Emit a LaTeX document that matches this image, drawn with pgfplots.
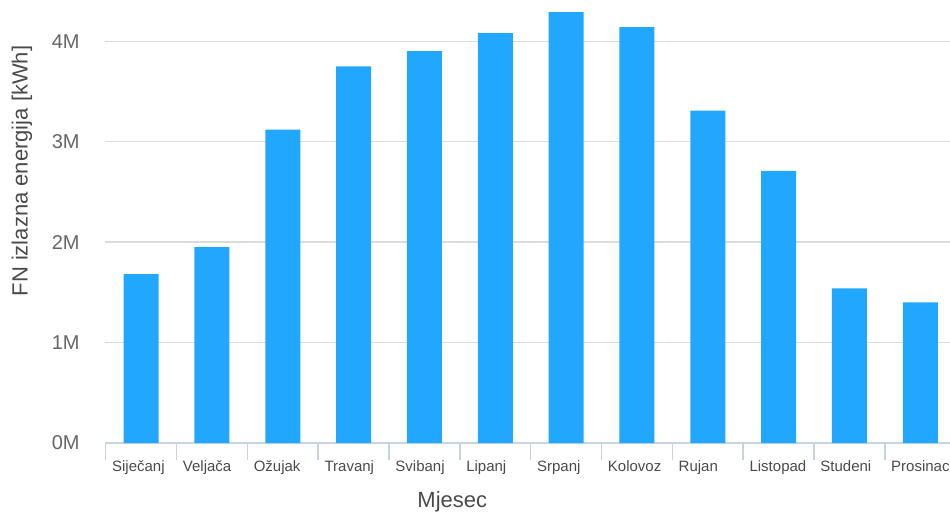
\documentclass[border=0pt]{standalone}
\usepackage{fontspec}
\setmainfont{Liberation Sans}
\usepackage{pgfplots}
\pgfplotsset{compat=1.18}

\definecolor{barblue}{HTML}{22A7FE}
\definecolor{gridgray}{HTML}{DCDCDC}
\definecolor{axisgray}{HTML}{C9D3DE}
\definecolor{ticktext}{HTML}{666666}
\definecolor{labeltext}{HTML}{4A4A4A}

\begin{document}
\begin{tikzpicture}
  \begin{axis}[
      scale only axis,
      width=422.5pt, height=221.5pt,
      xmin=-0.51, xmax=11.42,
      ymin=0, ymax=4.41,
      axis x line*=bottom, axis y line*=left,
      y axis line style={draw=none},
      x axis line style={draw=axisgray, line width=0.7pt},
      ybar, bar width=17.5pt,
      ymajorgrids, grid style={gridgray, line width=0.65pt},
      ytick={0,1,2,3,4},
      yticklabels={0M,1M,2M,3M,4M},
      ytick style={draw=none},
      yticklabel style={anchor=east, inner sep=0pt, xshift=-4pt,
        font=\fontsize{10}{12}\selectfont, text=ticktext},
      xtick={-0.5,0.5,...,10.5},
      xticklabels={Siječanj,Veljača,Ožujak,Travanj,Svibanj,Lipanj,Srpanj,Kolovoz,Rujan,Listopad,Studeni,Prosinac},
      tick align=outside,
      major tick length=8.5pt,
      xtick style={draw=axisgray, line width=0.7pt},
      xticklabel style={anchor=base west, inner sep=0pt, xshift=3pt, yshift=-5.5pt,
        font=\fontsize{7.5}{9}\selectfont, text=labeltext},
      ylabel={FN izlazna energija [kWh]},
      ylabel style={at={(axis description cs:0,0.614)}, anchor=center, yshift=41.5pt,
        font=\fontsize{11}{13}\selectfont, text=labeltext},
      xlabel={Mjesec},
      xlabel style={at={(axis description cs:0.411,0)}, anchor=base, yshift=-32pt,
        font=\fontsize{11}{13}\selectfont, text=labeltext},
    ]
    \addplot[fill=barblue, draw=none] coordinates {
      (0,1.68) (1,1.95) (2,3.12) (3,3.75) (4,3.90) (5,4.08)
      (6,4.29) (7,4.14) (8,3.31) (9,2.71) (10,1.54) (11,1.40)
    };
    \coordinate (bl) at (rel axis cs:0,0);
    \coordinate (tr) at (rel axis cs:1,1);
  \end{axis}
  \pgfresetboundingbox
  \path[use as bounding box] (bl) ++(-52.5pt,-34pt) rectangle (tr);
\end{tikzpicture}
\end{document}
